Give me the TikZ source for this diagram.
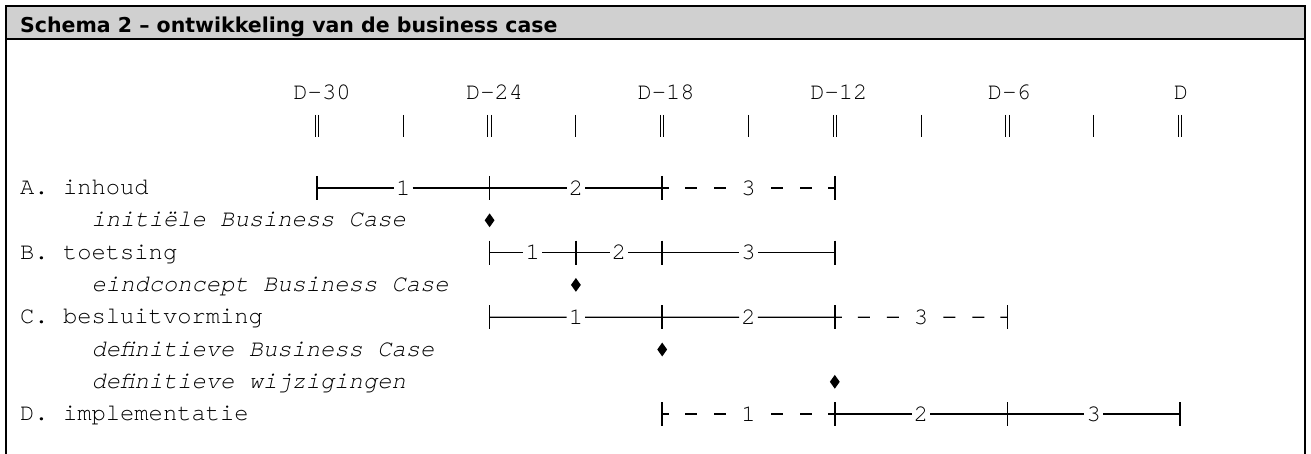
\documentclass[tikz,border=0pt]{standalone}
\usepackage{fontspec}
\setmainfont{DejaVu Sans}
\setmonofont{texgyrecursor}[Extension=.otf, UprightFont=*-regular, ItalicFont=*-italic, BoldFont=*-bold]
\usetikzlibrary{calc, shapes.geometric}
\definecolor{bandgray}{HTML}{D0D0D0}

\begin{document}
\begin{tikzpicture}[x=1pt, y=-1pt,
      frame/.style={line width=2pt},
      mono/.style={font=\fontsize{23.8}{28}\selectfont\ttfamily},
      rowlabel/.style={mono, anchor=base west, inner sep=0pt},
      doclabel/.style={rowlabel, font=\fontsize{23.8}{28}\selectfont\ttfamily\itshape},
      monthtick/.style={line width=1pt},
      bar/.style={line width=1.3pt},
      bartick/.style={line width=1.5pt},
      dashbar/.style={bar, dash pattern=on 7pt off 16pt on 12pt off 17pt on 12pt off 40pt},
      num/.style={mono, inner sep=2pt},
      milestone/.style={diamond, fill=black, inner sep=0pt, minimum width=10pt, minimum height=14pt}
   ]
   \useasboundingbox (0,0) rectangle (1311,454);
   % Frame with title band
   \fill[bandgray] (6,6) rectangle (1304.5,39);
   \draw[frame] (6,454) -- (6,6) -- (1304.5,6) -- (1304.5,454);
   \draw[frame] (6,39) -- (1304.5,39);
   \node[anchor=base west, inner sep=0pt, font=\fontsize{20.5}{24}\selectfont\bfseries] (title) at (20,33)
      {Schema 2 – ontwikkeling van de business case};

   % Time axis: one tick every 3 months, D-30 ... D
   \foreach \i in {0,...,10}
      \coordinate (t\i) at ({317+86.3*\i},126);
   \foreach \i in {0,2,...,10}
      \draw[monthtick] ([xshift=-1.7pt]t\i) ++(0,-11) -- ++(0,22)
                       ([xshift=1.7pt]t\i) ++(0,-11) -- ++(0,22);
   \foreach \i in {1,3,...,9}
      \draw[monthtick] (t\i) ++(0,-11) -- ++(0,22);
   \coordinate (labrow) at (0,100);
   \foreach \i/\txt/\dx in {0/D-30/5, 2/D-24/5, 4/D-18/4, 6/D-12/4, 8/D-6/2, 10/D/1}
      \node[mono, anchor=base, inner sep=0pt, xshift=\dx pt] (lab\i) at (t\i |- labrow) {\txt};

   % Rows
   \foreach \r/\y in {A/188, dA/220.3, B/252.6, dB/284.9, C/317.2, dC/349.5, dW/381.8, D/414.1}
      \coordinate (row\r) at (0,\y);
   \node[rowlabel] (nameA) at (20,194.5) {A. inhoud};
   \node[doclabel] (docA) at (91.5,226.8) {initiële Business Case};
   \node[rowlabel] (nameB) at (20,259.1) {B. toetsing};
   \node[doclabel] (docB) at (91.5,291.4) {eindconcept Business Case};
   \node[rowlabel] (nameC) at (20,323.7) {C. besluitvorming};
   \node[doclabel] (docC) at (91.5,356) {definitieve Business Case};
   \node[doclabel] (docW) at (91.5,388.3) {definitieve wijzigingen};
   \node[rowlabel] (nameD) at (20,420.6) {D. implementatie};

   % A. inhoud
   \foreach \i in {0,2,4,6}
      \coordinate (A\i) at (t\i |- rowA);
   \node[num] (A1) at ($(A0)!.5!(A2)$) {1};
   \node[num] (A2n) at ($(A2)!.5!(A4)$) {2};
   \node[num] (A3) at ($(A4)!.5!(A6)$) {3};
   \draw[bar] (A0) -- (A1) -- (A2) -- (A2n) -- (A4);
   \draw[dashbar] (A4) -- (A3);
   \draw[dashbar] (A6) -- (A3);
   \foreach \p in {A0,A2,A4,A6}
      \draw[bartick] (\p) ++(0,-12) -- ++(0,24);
   \node[milestone] (msA) at (t2 |- rowdA) {};

   % B. toetsing
   \foreach \i in {2,3,4,6}
      \coordinate (B\i) at (t\i |- rowB);
   \node[num] (B1) at ($(B2)!.5!(B3)$) {1};
   \node[num] (B2n) at ($(B3)!.5!(B4)$) {2};
   \node[num] (B3n) at ($(B4)!.5!(B6)$) {3};
   \draw[bar] (B2) -- (B1) -- (B3) -- (B2n) -- (B4) -- (B3n) -- (B6);
   \foreach \p in {B2,B3,B4,B6}
      \draw[bartick] (\p) ++(0,-12) -- ++(0,24);
   \node[milestone] (msB) at (t3 |- rowdB) {};

   % C. besluitvorming
   \foreach \i in {2,4,6,8}
      \coordinate (C\i) at (t\i |- rowC);
   \node[num] (C1) at ($(C2)!.5!(C4)$) {1};
   \node[num] (C2n) at ($(C4)!.5!(C6)$) {2};
   \node[num] (C3) at ($(C6)!.5!(C8)$) {3};
   \draw[bar] (C2) -- (C1) -- (C4) -- (C2n) -- (C6);
   \draw[dashbar] (C6) -- (C3);
   \draw[dashbar] (C8) -- (C3);
   \foreach \p in {C2,C4,C6,C8}
      \draw[bartick] (\p) ++(0,-12) -- ++(0,24);
   \node[milestone] (msC) at (t4 |- rowdC) {};
   \node[milestone] (msW) at (t6 |- rowdW) {};

   % D. implementatie
   \foreach \i in {4,6,8,10}
      \coordinate (D\i) at (t\i |- rowD);
   \node[num] (D1) at ($(D4)!.5!(D6)$) {1};
   \node[num] (D2) at ($(D6)!.5!(D8)$) {2};
   \node[num] (D3) at ($(D8)!.5!(D10)$) {3};
   \draw[dashbar] (D4) -- (D1);
   \draw[dashbar] (D6) -- (D1);
   \draw[bar] (D6) -- (D2) -- (D8) -- (D3) -- (D10);
   \foreach \p in {D4,D6,D8,D10}
      \draw[bartick] (\p) ++(0,-12) -- ++(0,24);
\end{tikzpicture}
\end{document}
